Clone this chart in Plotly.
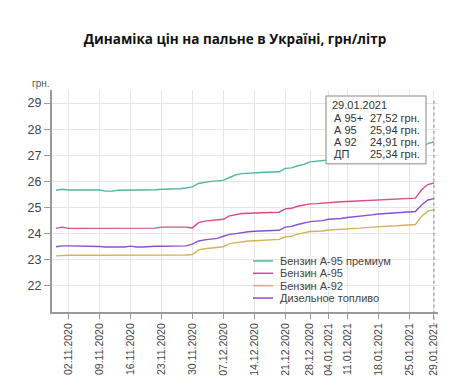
import plotly.graph_objects as go

dates = [
    "29.10.2020", "30.10.2020",
    "02.11.2020", "03.11.2020", "04.11.2020", "05.11.2020", "06.11.2020",
    "09.11.2020", "10.11.2020", "11.11.2020", "12.11.2020", "13.11.2020",
    "16.11.2020", "17.11.2020", "18.11.2020", "19.11.2020", "20.11.2020",
    "23.11.2020", "24.11.2020", "25.11.2020", "26.11.2020", "27.11.2020",
    "30.11.2020", "01.12.2020", "02.12.2020", "03.12.2020", "04.12.2020",
    "07.12.2020", "08.12.2020", "09.12.2020", "10.12.2020", "11.12.2020",
    "14.12.2020", "15.12.2020", "16.12.2020", "17.12.2020", "18.12.2020",
    "21.12.2020", "22.12.2020", "23.12.2020", "24.12.2020",
    "28.12.2020", "29.12.2020", "30.12.2020",
    "04.01.2021", "05.01.2021", "06.01.2021",
    "11.01.2021", "12.01.2021", "13.01.2021", "14.01.2021", "15.01.2021",
    "18.01.2021", "19.01.2021", "20.01.2021", "21.01.2021", "22.01.2021",
    "25.01.2021", "26.01.2021", "27.01.2021", "28.01.2021", "29.01.2021",
]

a95_premium = [
    25.66, 25.70,
    25.67, 25.67, 25.67, 25.67, 25.67,
    25.67, 25.63, 25.63, 25.66, 25.67,
    25.67, 25.67, 25.67, 25.67, 25.68,
    25.70, 25.70, 25.70, 25.72, 25.75,
    25.79, 25.92, 25.97, 26.00, 26.02,
    26.04, 26.15, 26.25, 26.30, 26.32,
    26.33, 26.34, 26.35, 26.35, 26.37,
    26.50, 26.52, 26.60, 26.65,
    26.75, 26.78, 26.80,
    26.82, 26.83, 26.84,
    26.86, 26.87, 26.88, 26.89, 26.90,
    26.91, 26.92, 26.93, 26.93, 26.94,
    26.95, 26.98, 27.25, 27.45, 27.52,
]

a95 = [
    24.20, 24.25,
    24.20, 24.20, 24.20, 24.20, 24.20,
    24.20, 24.20, 24.20, 24.20, 24.20,
    24.20, 24.20, 24.20, 24.20, 24.21,
    24.25, 24.25, 24.25, 24.25, 24.25,
    24.22, 24.42, 24.48, 24.50, 24.51,
    24.55, 24.68, 24.72, 24.77, 24.78,
    24.79, 24.80, 24.80, 24.81, 24.82,
    24.95, 24.97, 25.05, 25.10,
    25.14, 25.15, 25.17,
    25.20, 25.21, 25.22,
    25.23, 25.24, 25.25, 25.27, 25.28,
    25.30, 25.31, 25.32, 25.33, 25.34,
    25.35, 25.36, 25.68, 25.88, 25.94,
]

a92 = [
    23.15, 23.17,
    23.17, 23.17, 23.17, 23.17, 23.17,
    23.17, 23.17, 23.17, 23.17, 23.17,
    23.17, 23.17, 23.17, 23.17, 23.17,
    23.18, 23.18, 23.18, 23.18, 23.18,
    23.20, 23.38, 23.42, 23.45, 23.47,
    23.50, 23.62, 23.66, 23.70, 23.72,
    23.73, 23.74, 23.75, 23.76, 23.78,
    23.88, 23.90, 23.98, 24.03,
    24.08, 24.09, 24.10,
    24.14, 24.15, 24.16,
    24.18, 24.20, 24.21, 24.23, 24.25,
    24.27, 24.28, 24.29, 24.30, 24.32,
    24.33, 24.35, 24.66, 24.86, 24.91,
]

diesel = [
    23.50, 23.53,
    23.53, 23.53, 23.53, 23.53, 23.53,
    23.51, 23.49, 23.49, 23.49, 23.49,
    23.52, 23.49, 23.49, 23.51, 23.52,
    23.52, 23.52, 23.52, 23.52, 23.53,
    23.60, 23.72, 23.76, 23.80, 23.82,
    23.90, 23.97, 24.00, 24.04, 24.07,
    24.09, 24.10, 24.11, 24.12, 24.13,
    24.25, 24.28, 24.35, 24.40,
    24.46, 24.48, 24.50,
    24.55, 24.56, 24.58,
    24.62, 24.64, 24.66, 24.69, 24.72,
    24.75, 24.77, 24.79, 24.81, 24.83,
    24.84, 24.85, 25.10, 25.29, 25.34,
]

series_names = ["Бензин А-95 премиум", "Бензин А-95", "Бензин А-92", "Дизельное топливо"]
series_values = [a95_premium, a95, a92, diesel]
series_colors = ["#52b5a3", "#d94b8c", "#d6b25a", "#8b4fd6"]

tick_labels = ["02.11.2020", "09.11.2020", "16.11.2020", "23.11.2020", "30.11.2020",
               "07.12.2020", "14.12.2020", "21.12.2020", "28.12.2020", "04.01.2021",
               "11.01.2021", "18.01.2021", "25.01.2021", "29.01.2021"]

y_ticks = [22, 23, 24, 25, 26, 27, 28, 29]

tooltip_date = "29.01.2021"
tooltip_labels = ["А 95+", "А 95", "А 92", "ДП"]
tooltip_values = ["27,52 грн.", "25,94 грн.", "24,91 грн.", "25,34 грн."]

FONT = "Liberation Sans, Arial, sans-serif"

fig = go.Figure()
for name, vals, col in zip(series_names, series_values, series_colors):
    fig.add_trace(go.Scatter(x=dates, y=vals, mode="lines", name=name,
                             line=dict(color=col, width=1.4), showlegend=False))

W, H = 454, 380
L, R, T, B = 44, 24, 82, 72
pw, ph = W - L - R, H - T - B

def px_x(x):
    return (x - L) / pw

def px_y(y):
    return (H - B - y) / ph

shapes = []
annotations = []

# crosshair at last date
last_idx = len(dates) - 1
shapes.append(dict(type="line", xref="x", yref="paper", x0=last_idx, x1=last_idx,
                   y0=px_y(322), y1=px_y(93), line=dict(color="#888", width=1, dash="dot")))

# tooltip box
shapes.append(dict(type="rect", xref="paper", yref="paper",
                   x0=px_x(318), x1=px_x(418), y0=px_y(157), y1=px_y(88),
                   fillcolor="white", line=dict(color="#b0b0b0", width=1.5)))
annotations.append(dict(xref="paper", yref="paper", x=px_x(322), y=px_y(97),
                        text=tooltip_date, showarrow=False, xanchor="left", yanchor="middle",
                        font=dict(family=FONT, size=11, color="#333")))
for i, (lab, val) in enumerate(zip(tooltip_labels, tooltip_values)):
    yy = px_y(110 + i * 12.5)
    annotations.append(dict(xref="paper", yref="paper", x=px_x(324), y=yy, text=lab,
                            showarrow=False, xanchor="left", yanchor="middle",
                            font=dict(family=FONT, size=11, color="#333")))
    annotations.append(dict(xref="paper", yref="paper", x=px_x(414), y=yy, text=val,
                            showarrow=False, xanchor="right", yanchor="middle",
                            font=dict(family=FONT, size=11, color="#333")))

# legend (custom)
shapes.append(dict(type="rect", xref="paper", yref="paper",
                   x0=px_x(240), x1=px_x(395), y0=px_y(300), y1=px_y(248),
                   fillcolor="white", line=dict(width=0), layer="below"))
for i, (name, col) in enumerate(zip(series_names, series_colors)):
    yy = px_y(256 + i * 12.6)
    shapes.append(dict(type="line", xref="paper", yref="paper",
                       x0=px_x(245), x1=px_x(265), y0=yy, y1=yy,
                       line=dict(color=col, width=1.5)))
    annotations.append(dict(xref="paper", yref="paper", x=px_x(270), y=yy, text=name,
                            showarrow=False, xanchor="left", yanchor="middle",
                            font=dict(family=FONT, size=11, color="#444")))

# y-axis unit
annotations.append(dict(xref="paper", yref="paper", x=px_x(22), y=px_y(75), text="грн.",
                        showarrow=False, xanchor="left", yanchor="middle",
                        font=dict(family=FONT, size=10, color="#555")))

fig.update_layout(
    width=W, height=H,
    margin=dict(l=L, r=R, t=T, b=B),
    paper_bgcolor="white", plot_bgcolor="white",
    font=dict(family=FONT, color="#444"),
    title=dict(text="<b>Динаміка цін на пальне в Україні, грн/літр</b>",
               x=0.5, xanchor="center", y=1 - 31 / H, yanchor="middle",
               font=dict(family="Open Sans, sans-serif", size=13.5, color="#111")),
    shapes=shapes, annotations=annotations,
    hovermode=False,
)
fig.update_xaxes(
    type="category", categoryorder="array", categoryarray=dates,
    range=[-0.65, last_idx + 0.65],
    tickmode="array", tickvals=tick_labels, ticktext=tick_labels,
    tickangle=-90, tickfont=dict(family=FONT, size=10.5, color="#444"),
    ticks="outside", ticklen=5, tickcolor="#999",
    showgrid=True, gridcolor="#e6e6e6", gridwidth=1,
    showline=True, linecolor="#999", linewidth=2, zeroline=False,
)
fig.update_yaxes(
    range=[21, 29.5], tickmode="array", tickvals=y_ticks,
    tickfont=dict(family=FONT, size=12.5, color="#444"),
    ticks="outside", ticklen=6, tickcolor="#999",
    showgrid=True, gridcolor="#e6e6e6", gridwidth=1,
    showline=True, linecolor="#999", linewidth=2, zeroline=False,
)

fig.write_html("out.html")
